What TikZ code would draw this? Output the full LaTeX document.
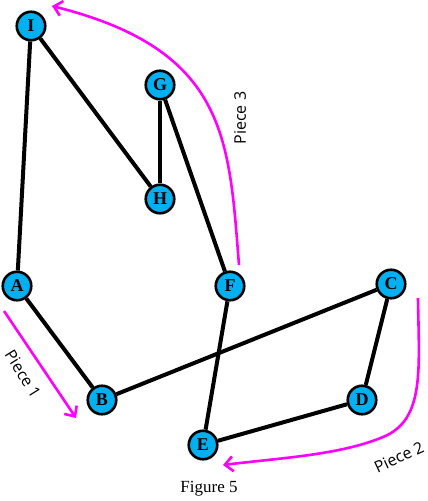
\documentclass[tikz,border=0pt]{standalone}
\usepackage{fontspec}
\setmainfont{Liberation Serif}
\newfontfamily\piecefont{Open Sans}
\usetikzlibrary{arrows.meta}
\definecolor{nodecyan}{RGB}{0,176,240}
\definecolor{piecemag}{RGB}{255,0,255}
\begin{document}
\begin{tikzpicture}[x=1pt,y=-1pt,
  vert/.style={circle,draw=black,line width=2.6pt,fill=nodecyan,minimum size=28.5pt,inner sep=0pt,font=\bfseries\fontsize{18}{18}\selectfont},
  edge/.style={line width=4pt,black},
  piece/.style={line width=2.6pt,piecemag,-{Straight Barb[length=8pt,width=15pt,line width=2.6pt]}},
  plabel/.style={font=\piecefont\fontsize{16}{16}\selectfont}]
\useasboundingbox (0,0) rectangle (428,501);
\coordinate (p3s) at (239,265);
\coordinate (p3e) at (52,6);
\coordinate (p1s) at (4,311);
\coordinate (p1e) at (76,418);
\coordinate (p2s) at (418,298);
\coordinate (p2m) at (383,437);
\coordinate (p2e) at (223,465);
\node[vert] (I) at (31,26) {I};
\node[vert] (G) at (160,85) {G};
\node[vert] (H) at (160,199) {H};
\node[vert] (A) at (17,286) {A};
\node[vert] (F) at (230,286) {F};
\node[vert] (C) at (391,284) {C};
\node[vert] (B) at (102,400) {B};
\node[vert] (D) at (362,400) {D};
\node[vert] (E) at (203,445) {E};
\draw[edge] (I) -- (A);
\draw[edge] (I) -- (H);
\draw[edge] (G) -- (H);
\draw[edge] (G) -- (F);
\draw[edge] (F) -- (E);
\draw[edge] (A) -- (B);
\draw[edge] (B) -- (C);
\draw[edge] (C) -- (D);
\draw[edge] (D) -- (E);
\draw[piece] (p3s) .. controls (229,140) and (228,50) .. (p3e);
\draw[piece] (p1s) -- (p1e);
\draw[piece] (p2s) .. controls (419,370) and (425,420) .. (p2m) .. controls (340,455) and (280,458) .. (p2e);
\node[plabel,rotate=90] (l3) at (240,118) {Piece 3};
\node[plabel,rotate=-58] (l1) at (23,374) {Piece 1};
\node[plabel,rotate=25] (l2) at (399,457) {Piece 2};
\node[font=\fontsize{17}{17}\selectfont] (cap) at (209,489) {Figure 5};
\end{tikzpicture}
\end{document}
